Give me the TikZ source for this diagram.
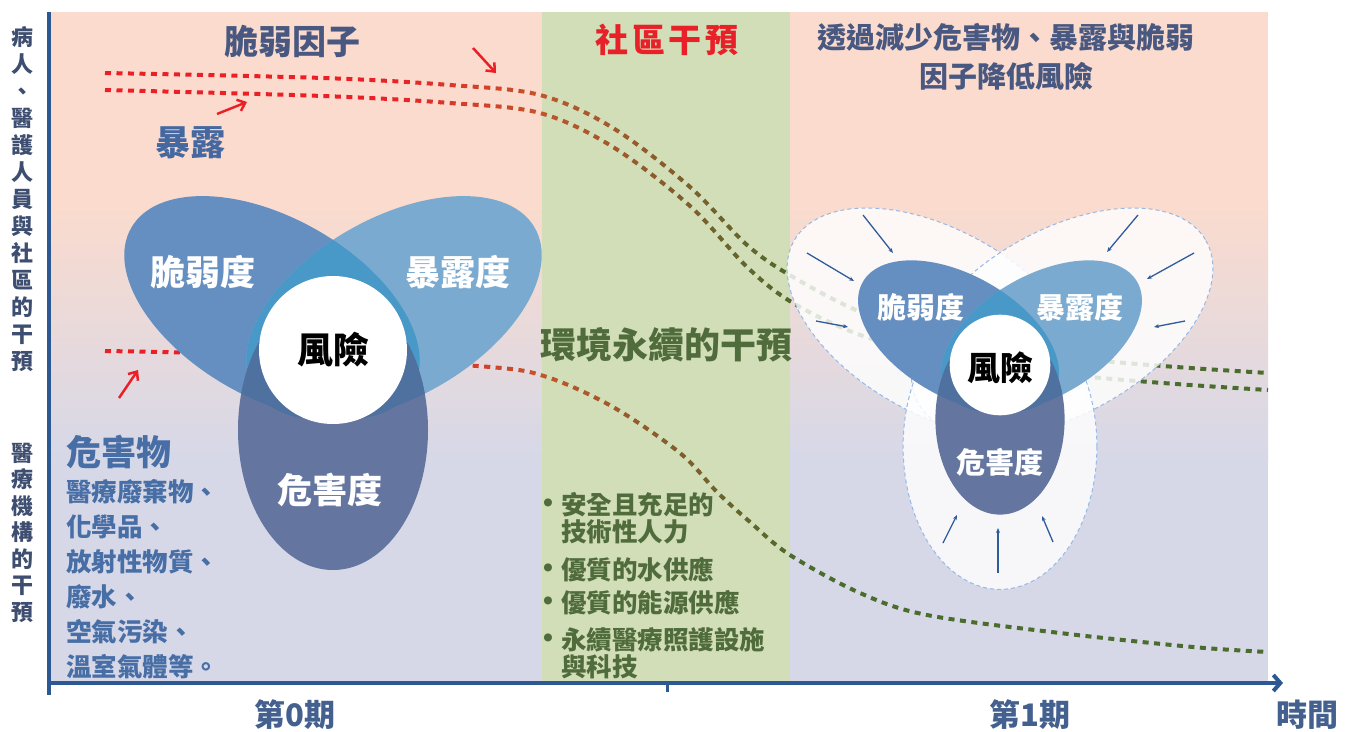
\documentclass[tikz,border=0pt]{standalone}
\usepackage{fontspec}
\newfontfamily\tc{Noto Sans CJK TC}
\usetikzlibrary{arrows.meta}

\definecolor{peach}{RGB}{251,219,205}
\definecolor{lav}{RGB}{214,216,232}
\definecolor{band}{RGB}{209,222,184}
\definecolor{axisblue}{RGB}{44,88,148}
\definecolor{lobeA}{RGB}{101,143,192}
\definecolor{lobeB}{RGB}{122,170,208}
\definecolor{lobeAB}{RGB}{72,152,200}
\definecolor{hazc}{RGB}{100,118,160}
\definecolor{hazov}{RGB}{79,113,160}
\definecolor{redA}{RGB}{234,32,38}
\definecolor{rust}{RGB}{194,84,44}
\definecolor{olive}{RGB}{128,94,44}
\definecolor{greenD}{RGB}{74,108,44}
\definecolor{halob}{RGB}{150,185,230}
\definecolor{arrb}{RGB}{46,92,156}
\definecolor{vertc}{RGB}{62,78,112}
\definecolor{titc}{RGB}{72,88,128}
\definecolor{expc}{RGB}{70,104,160}
\definecolor{hazt}{RGB}{72,110,166}
\definecolor{gtext}{RGB}{80,108,60}
\definecolor{perc}{RGB}{68,96,142}
\definecolor{redt}{RGB}{232,32,40}

\tikzset{
  every node/.style={inner sep=0pt, outer sep=0pt},
  dotl/.style={line width=4pt, dash pattern=on 6pt off 5.5pt},
  halo/.style={fill=white, fill opacity=0.82, draw=halob, dash pattern=on 4pt off 3pt, line width=1pt},
  redarr/.style={draw=redA, line width=2.5pt, -{Straight Barb[length=7pt,width=12pt]}},
  inarr/.style={draw=arrb, line width=1.3pt, -{Stealth[length=5pt,width=4pt]}},
  lbl/.style={text=white, font=\tc\bfseries\fontsize{35}{35}\selectfont},
  lbls/.style={text=white, font=\tc\bfseries\fontsize{29}{29}\selectfont},
  gb/.style={text=gtext, anchor=west, font=\tc\bfseries\fontsize{25.5}{25.5}\selectfont},
  gdot/.style={text=gtext, font=\fontsize{36}{36}\selectfont},
}

\newcommand\dotlines[1]{%
 \draw[dotl,draw=#1] plot[smooth,tension=0.55] coordinates {(105,73) (323,78) (450,85) (540,95) (613,128) (690,187) (747,245) (793,277) (863,313) (950,340) (1040,355) (1113,362) (1190,368) (1268,373)};
 \draw[dotl,draw=#1] plot[smooth,tension=0.55] coordinates {(105,90) (323,96) (450,103) (540,113) (613,147) (690,206) (747,267) (793,303) (863,336) (950,358) (1040,372) (1113,379) (1190,385) (1268,390)};
 \draw[dotl,draw=#1] plot[smooth,tension=0.55] coordinates {(105,351) (200,353) (330,358) (490,367) (547,377) (613,407) (680,453) (717,492) (750,522) (790,555) (860,593) (927,615) (1060,633) (1193,647) (1268,652)};
}

\newcommand\vennshapes{%
  \fill[lobeA, rotate around={-29.6:(-61,-42)}] (-61,-42) ellipse [x radius=162, y radius=90];
  \fill[lobeB, rotate around={29.6:(61,-42)}] (61,-42) ellipse [x radius=162, y radius=90];
  \begin{scope}
    \clip[rotate around={-29.6:(-61,-42)}] (-61,-42) ellipse [x radius=162, y radius=90];
    \fill[lobeAB, rotate around={29.6:(61,-42)}] (61,-42) ellipse [x radius=162, y radius=90];
  \end{scope}
  \fill[hazc] (0,80) ellipse [x radius=95, y radius=140];
  \begin{scope}
    \clip (0,80) ellipse [x radius=95, y radius=140];
    \fill[hazov, rotate around={-29.6:(-61,-42)}] (-61,-42) ellipse [x radius=162, y radius=90];
    \fill[hazov, rotate around={29.6:(61,-42)}] (61,-42) ellipse [x radius=162, y radius=90];
  \end{scope}
  \fill[white] (0,0) circle [radius=74];
}

\begin{document}
\begin{tikzpicture}[x=1pt,y=-1pt]
\useasboundingbox (0,0) rectangle (1352,731);
\fill[white] (0,0) rectangle (1352,731);

% background
\fill[peach] (48,12) rectangle (1268,201);
\shade[top color=peach, bottom color=lav] (48,200) rectangle (1268,461);
\fill[lav] (48,460) rectangle (1268,683);
\fill[band] (542,12) rectangle (790,683);

% dotted lines with colour gradient
\begin{scope}\clip (0,0) rectangle (380.5,731); \dotlines{redA} \end{scope}
\foreach \k in {0,...,15} {
  \pgfmathtruncatemacro\p{(\k+0.5)*100/16}
  \pgfmathsetmacro\xa{380+10*\k}
  \pgfmathsetmacro\xb{\xa+10.6}
  \colorlet{segc}{rust!\p!redA}
  \begin{scope}\clip (\xa,0) rectangle (\xb,731); \dotlines{segc} \end{scope}
}
\foreach \k in {0,...,13} {
  \pgfmathtruncatemacro\p{(\k+0.5)*100/14}
  \pgfmathsetmacro\xa{540+10*\k}
  \pgfmathsetmacro\xb{\xa+10.6}
  \colorlet{segc}{olive!\p!rust}
  \begin{scope}\clip (\xa,0) rectangle (\xb,731); \dotlines{segc} \end{scope}
}
\foreach \k in {0,...,11} {
  \pgfmathtruncatemacro\p{(\k+0.5)*100/12}
  \pgfmathsetmacro\xa{680+10*\k}
  \pgfmathsetmacro\xb{\xa+10.6}
  \colorlet{segc}{greenD!\p!olive}
  \begin{scope}\clip (\xa,0) rectangle (\xb,731); \dotlines{segc} \end{scope}
}
\begin{scope}\clip (800,0) rectangle (1352,731); \dotlines{greenD} \end{scope}

% left venn group
\begin{scope}[shift={(333,350)}]
  \vennshapes
\end{scope}

% right group: halos
\begin{scope}[shift={(1000,365)}, scale=1.02]
  \filldraw[halo, rotate around={-29.6:(-61,-42)}] (-61,-42) ellipse [x radius=162, y radius=90];
  \filldraw[halo, rotate around={29.6:(61,-42)}] (61,-42) ellipse [x radius=162, y radius=90];
  \filldraw[halo] (0,80) ellipse [x radius=95, y radius=140];
\end{scope}

% inward arrows
\coordinate (a1s) at (863,215); \coordinate (a1e) at (893,253);
\coordinate (a2s) at (807,253); \coordinate (a2e) at (854,281);
\coordinate (a3s) at (816,321); \coordinate (a3e) at (848,327);
\coordinate (a4s) at (1138,215); \coordinate (a4e) at (1107,252);
\coordinate (a5s) at (1194,253); \coordinate (a5e) at (1147,279);
\coordinate (a6s) at (1185,321); \coordinate (a6e) at (1154,327);
\coordinate (a7s) at (943,543); \coordinate (a7e) at (957,515);
\coordinate (a8s) at (998,573); \coordinate (a8e) at (998,528);
\coordinate (a9s) at (1053,542); \coordinate (a9e) at (1042,516);
\foreach \i in {1,...,9} { \draw[inarr] (a\i s) -- (a\i e); }

\begin{scope}[shift={(1000,365)}, scale=0.68]
  \vennshapes
\end{scope}

% axes
\draw[axisblue, line width=4pt] (49,12) -- (49,695);
\draw[axisblue, line width=4pt, -{Straight Barb[length=7pt,width=16pt]}] (47,683) -- (1283,683);
\draw[axisblue, line width=3pt] (667,683) -- (667,692);

% red arrows
\coordinate (r1s) at (473,48);  \coordinate (r1e) at (496,73);
\coordinate (r2s) at (217,114); \coordinate (r2e) at (247,102);
\coordinate (r3s) at (119,398); \coordinate (r3e) at (138,370);
\draw[redarr] (r1s) -- (r1e);
\draw[redarr] (r2s) -- (r2e);
\draw[redarr] (r3s) -- (r3e);

% vertical labels
\node[anchor=north, align=center, text=vertc, font=\tc\bfseries\fontsize{22}{27}\selectfont] (v1) at (22,27)
  {病\\人\\、\\醫\\護\\人\\員\\與\\社\\區\\的\\干\\預};
\node[anchor=north, align=center, text=vertc, font=\tc\bfseries\fontsize{22}{26.5}\selectfont] (v2) at (22,443)
  {醫\\療\\機\\構\\的\\干\\預};

% titles
\node[text=titc, font=\tc\bfseries\fontsize{34}{34}\selectfont] (t1) at (292,42) {脆弱因子};
\node[text=redt, font=\tc\bfseries\fontsize{33}{33}\selectfont] (t2) at (667,40) {社\hspace{4pt}區\hspace{4pt}干\hspace{4pt}預};
\node[text=titc, align=center, font=\tc\bfseries\fontsize{29}{39}\selectfont] (t3) at (1006,57) {透過減少危害物、暴露與脆弱\\因子降低風險};
\node[text=expc, font=\tc\bfseries\fontsize{35}{35}\selectfont] (exp) at (190,143) {暴露};
\node[text=hazt, font=\tc\bfseries\fontsize{35}{35}\selectfont, anchor=west] (haz) at (66,452) {危害物};
\node[text=hazt, anchor=north west, align=left, font=\tc\bfseries\fontsize{25.5}{35}\selectfont] (hlist) at (66,479)
  {醫療廢棄物、\\化學品、\\放射性物質、\\廢水、\\空氣污染、\\溫室氣體等。};

% left group labels
\node[lbl] (lv) at (203,272) {脆弱度};
\node[lbl] (le) at (458,272) {暴露度};
\node[text=black, font=\tc\bfseries\fontsize{36}{36}\selectfont] (lr) at (333,350) {風險};
\node[lbl] (lh) at (330,490) {危害度};

% right group labels
\node[lbls] (rv) at (921,307) {脆弱度};
\node[lbls] (re) at (1080,307) {暴露度};
\node[text=black, font=\tc\bfseries\fontsize{33}{33}\selectfont] (rr) at (1000,368) {風險};
\node[lbls] (rh) at (1000,462) {危害度};

% green band text
\node[text=gtext, font=\tc\bfseries\fontsize{36}{36}\selectfont] (env) at (666,345) {環境永續的干預};
\node[gb] (b1) at (561,505) {安全且充足的};
\node[gb] (b1b) at (561,532) {技術性人力};
\node[gb] (b2) at (561,570) {優質的水供應};
\node[gb] (b3) at (561,603) {優質的能源供應};
\node[gb] (b4) at (561,640) {永續醫療照護設施};
\node[gb] (b4b) at (561,667) {與科技};
\node[gdot] (d1) at (548,506) {\textbullet};
\node[gdot] (d2) at (548,571) {\textbullet};
\node[gdot] (d3) at (548,604) {\textbullet};
\node[gdot] (d4) at (548,641) {\textbullet};

% period labels
\node[text=perc, font=\tc\bfseries\fontsize{31}{31}\selectfont] (p0) at (295,715) {第0期};
\node[text=perc, font=\tc\bfseries\fontsize{31}{31}\selectfont] (p1) at (1030,715) {第1期};
\node[text=perc, font=\tc\bfseries\fontsize{31}{31}\selectfont] (tm) at (1307,715) {時間};
\end{tikzpicture}
\end{document}
